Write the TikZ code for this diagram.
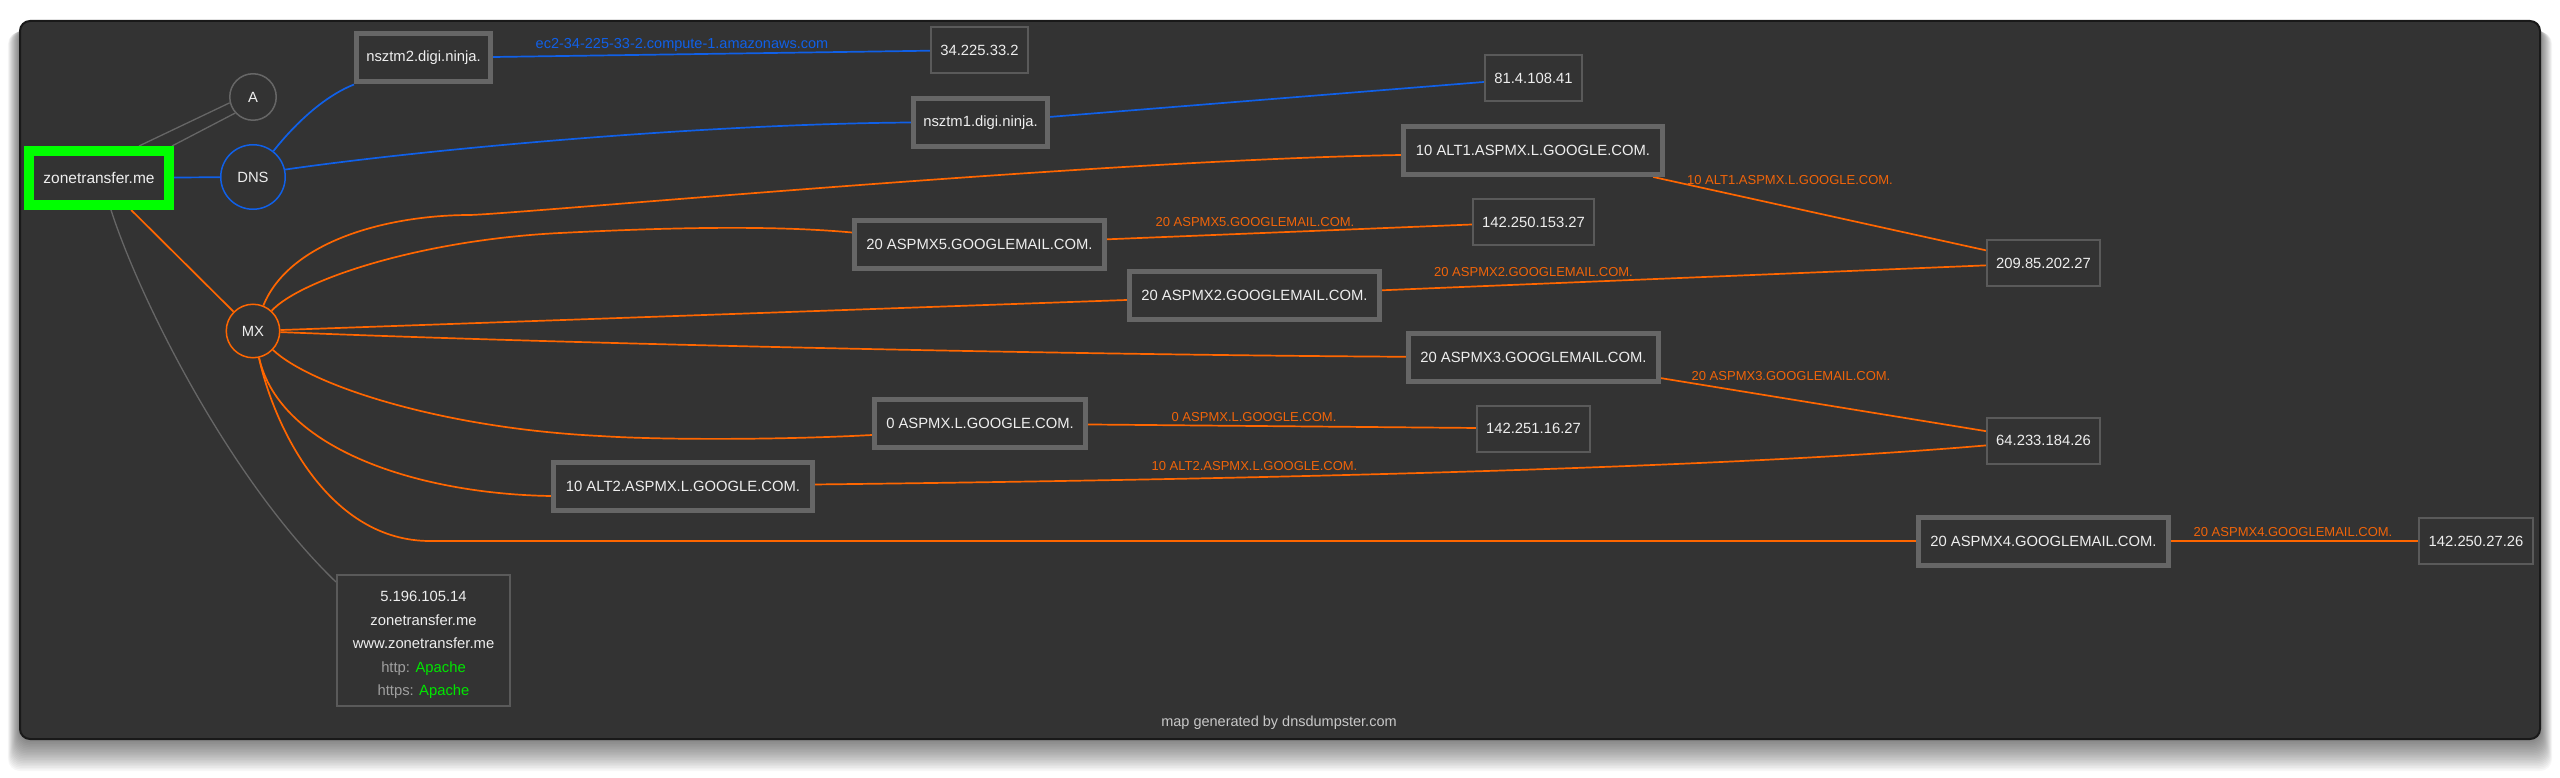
\documentclass[tikz,border=0pt]{standalone}
\usepackage{fontspec}
\setmainfont{Liberation Sans}
\usetikzlibrary{calc}
\definecolor{bgc}{RGB}{51,51,51}
\definecolor{boxgray}{RGB}{102,102,102}
\definecolor{thingray}{RGB}{90,90,90}
\definecolor{txt}{RGB}{238,238,238}
\definecolor{dnsblue}{RGB}{16,96,232}
\definecolor{mxorange}{RGB}{255,102,0}
\definecolor{lblorange}{RGB}{240,100,10}
\definecolor{rootgreen}{RGB}{0,255,0}
\definecolor{apache}{RGB}{0,230,0}
\definecolor{httpgray}{RGB}{160,160,160}
\definecolor{footgray}{RGB}{200,200,200}
\definecolor{linegray}{RGB}{102,102,102}
\definecolor{panelborder}{RGB}{25,25,25}
\pgfdeclarelayer{bglayer}
\pgfdeclarelayer{edges}
\pgfsetlayers{bglayer,edges,main}
\begin{document}
\begin{tikzpicture}[x=1pt,y=-1pt,
  rootbox/.style={rectangle, draw=rootgreen, line width=10pt, fill=bgc, text=txt,
    minimum width=140pt, minimum height=54pt, inner sep=0pt,
    font=\fontsize{15.5}{18}\selectfont},
  thickbox/.style={rectangle, draw=boxgray, line width=5pt, fill=bgc, text=txt,
    minimum height=48pt, inner sep=0pt, font=\fontsize{14.8}{17}\selectfont},
  thinbox/.style={rectangle, draw=thingray, line width=2pt, fill=bgc, text=txt,
    minimum height=46pt, inner sep=0pt, font=\fontsize{14.8}{17}\selectfont},
  circ/.style={circle, line width=1.5pt, fill=bgc, text=txt, inner sep=0pt,
    font=\fontsize{14.8}{17}\selectfont},
  blueedge/.style={draw=dnsblue, line width=1.7pt},
  orangeedge/.style={draw=mxorange, line width=1.7pt},
  grayedge/.style={draw=linegray, line width=1.3pt},
  olabel/.style={text=lblorange, inner sep=0pt, font=\fontsize{13}{15}\selectfont},
]
\useasboundingbox (0,0) rectangle (2560,778);

% panel and shadow
\begin{pgfonlayer}{bglayer}
  \foreach \i in {1,...,20} {
    \fill[black, opacity=0.03, rounded corners=12pt]
      ({20-0.6*\i},{26+0.3*\i}) rectangle ({2540+0.6*\i},{739+1.6*\i});
  }
  \fill[bgc, draw=panelborder, line width=2pt, rounded corners=10pt] (20,21) rectangle (2540,739);
\end{pgfonlayer}

% main nodes
\node[rootbox] (root) at (99,178) {zonetransfer.me};
\node[circ, draw=linegray, minimum size=46.5pt] (A) at (253,97) {A};
\node[circ, draw=dnsblue, minimum size=64.5pt] (DNS) at (253,177) {DNS};
\node[circ, draw=mxorange, minimum size=53.5pt] (MX) at (253,331) {MX};

\node[thickbox, minimum width=134pt] (ns2) at (423.5,58) {nsztm2.digi.ninja.};
\node[thickbox, minimum width=134pt] (ns1) at (980.5,122.5) {nsztm1.digi.ninja.};
\node[thickbox, minimum width=259pt] (alt1) at (1533,150.5) {10 ALT1.ASPMX.L.GOOGLE.COM.};
\node[thickbox, minimum width=250pt] (mx5) at (979.5,244.5) {20 ASPMX5.GOOGLEMAIL.COM.};
\node[thickbox, minimum width=250pt] (mx2) at (1254.5,295.5) {20 ASPMX2.GOOGLEMAIL.COM.};
\node[thickbox, minimum width=250pt] (mx3) at (1533.5,357.5) {20 ASPMX3.GOOGLEMAIL.COM.};
\node[thickbox, minimum width=211pt] (mxl) at (980,423.5) {0 ASPMX.L.GOOGLE.COM.};
\node[thickbox, minimum width=259pt] (alt2) at (683,486) {10 ALT2.ASPMX.L.GOOGLE.COM.};
\node[thickbox, minimum width=250pt] (mx4) at (2043.5,541) {20 ASPMX4.GOOGLEMAIL.COM.};

\node[thinbox, minimum width=97pt] (ip34) at (979.5,50) {34.225.33.2};
\node[thinbox, minimum width=97pt] (ip81) at (1533.5,78) {81.4.108.41};
\node[thinbox, minimum width=121pt] (ip142a) at (1533.5,222) {142.250.153.27};
\node[thinbox, minimum width=113pt] (ip209) at (2043.5,263) {209.85.202.27};
\node[thinbox, minimum width=113pt] (ip142b) at (1533.5,428.5) {142.251.16.27};
\node[thinbox, minimum width=113pt] (ip64) at (2043.5,440.5) {64.233.184.26};
\node[thinbox, minimum width=114pt] (ip27) at (2476,541) {142.250.27.26};

\node[thinbox, minimum width=173pt, minimum height=131pt] (info) at (423.5,640.5) {};
\node[align=center, text=txt, inner sep=0pt, font=\fontsize{14.8}{23.5}\selectfont] (infotext) at (423.5,645)
  {5.196.105.14\\zonetransfer.me\\www.zonetransfer.me\\{\color{httpgray}http:} {\color{apache}Apache}\\{\color{httpgray}https:} {\color{apache}Apache}};

\node[text=footgray, inner sep=0pt, font=\fontsize{14.5}{17}\selectfont] (footer) at (1279,723) {map generated by dnsdumpster.com};

% edge labels
\node[text=dnsblue, inner sep=0pt, font=\fontsize{14.5}{17}\selectfont] (lec2) at (682,45) {ec2-34-225-33-2.compute-1.amazonaws.com};
\node[olabel] (lalt1) at (1790,180) {10 ALT1.ASPMX.L.GOOGLE.COM.};
\node[olabel] (lmx5) at (1255,222) {20 ASPMX5.GOOGLEMAIL.COM.};
\node[olabel] (lmx2) at (1533.5,272) {20 ASPMX2.GOOGLEMAIL.COM.};
\node[olabel] (lmx3) at (1791,376) {20 ASPMX3.GOOGLEMAIL.COM.};
\node[olabel] (lmxl) at (1254,417) {0 ASPMX.L.GOOGLE.COM.};
\node[olabel] (lalt2) at (1254.5,466) {10 ALT2.ASPMX.L.GOOGLE.COM.};
\node[olabel] (lmx4) at (2293,532) {20 ASPMX4.GOOGLEMAIL.COM.};

% bend points
\coordinate (b1) at (470,215);
\coordinate (b5) at (560,233);
\coordinate (bl) at (600,436);
\coordinate (b4) at (430,541);

\begin{pgfonlayer}{edges}
  % root
  \draw[grayedge] ($(root.north)+(40,0)$) -- (A.194);
  \draw[grayedge] ($(root.north)+(73,0)$) -- (A.222);
  \draw[blueedge] (root) -- (DNS);
  \draw[orangeedge] (root) -- (MX);
  \draw[grayedge] ($(root.south)+(12,0)$) .. controls (140,300) and (230,480) .. ($(info.north west)+(0,8)$);
  % DNS
  \draw[blueedge] (DNS) .. controls (290,130) and (320,98) .. (ns2.south west);
  \draw[blueedge] (DNS.13) .. controls (420,150) and (700,124) .. (ns1.west);
  \draw[blueedge] (ns2) -- (ip34);
  \draw[blueedge] (ns1) -- (ip81);
  % MX
  \draw[orangeedge] (MX) .. controls (290,240) and (390,215) .. (b1)
     .. controls (530,213) and (1100,160) .. ($(alt1.west)+(0,4.5)$);
  \draw[orangeedge] (MX) .. controls (300,280) and (420,240) .. (b5)
     .. controls (640,229) and (760,224) .. ($(mx5.west)+(0,-12)$);
  \draw[orangeedge] (MX) -- (mx2);
  \draw[orangeedge] (MX) .. controls (600,345) and (1100,355) .. (mx3);
  \draw[orangeedge] (MX) .. controls (310,385) and (440,428) .. (bl)
     .. controls (660,440) and (780,440) .. ($(mxl.west)+(0,11.5)$);
  \draw[orangeedge] (MX) .. controls (280,450) and (420,494) .. ($(alt2.west)+(0,10)$);
  \draw[orangeedge] (MX) .. controls (275,430) and (330,541) .. (b4) -- (mx4);
  % second level
  \draw[orangeedge] (alt1) -- (ip209);
  \draw[orangeedge] (mx5) -- (ip142a);
  \draw[orangeedge] (mx2) -- (ip209);
  \draw[orangeedge] (mx3) -- (ip64);
  \draw[orangeedge] (mxl) -- (ip142b);
  \draw[orangeedge] (alt2) .. controls (1200,480) and (1700,470) .. (ip64);
  \draw[orangeedge] (mx4) -- (ip27);
\end{pgfonlayer}
\end{tikzpicture}
\end{document}
